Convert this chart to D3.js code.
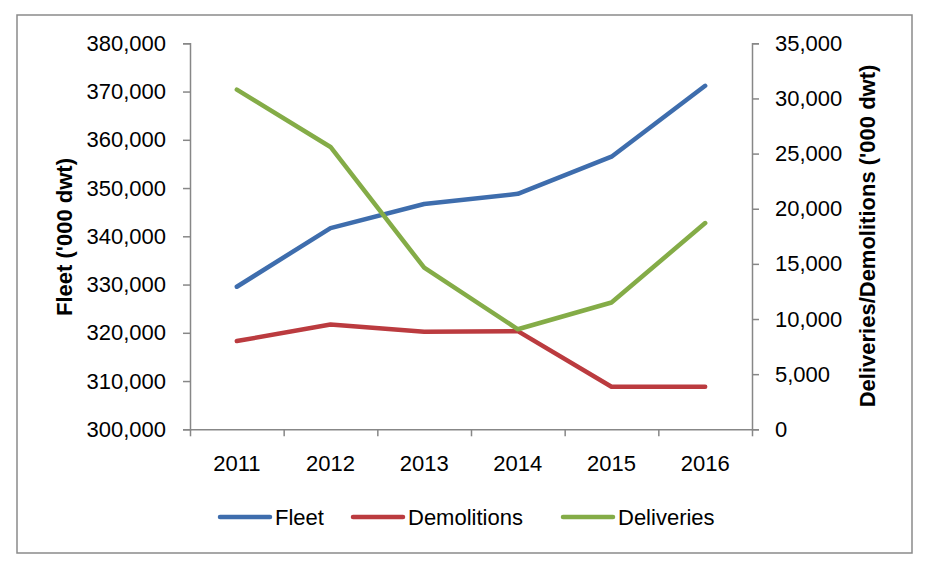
<!DOCTYPE html>
<html>
<head>
<meta charset="utf-8">
<script src="https://cdn.jsdelivr.net/npm/d3@7"></script>
<style>
  html, body { margin: 0; padding: 0; background: #fff; }
  svg { display: block; font-family: "Liberation Sans", Arial, sans-serif; }
</style>
</head>
<body>
<svg id="chart" width="936" height="576"></svg>
<script>
// ---- data ----
const years = ["2011", "2012", "2013", "2014", "2015", "2016"];
const fleet = [329550, 341700, 346700, 348800, 356500, 371200];
const demolitions = [8000, 9500, 8850, 8900, 3860, 3860];
const deliveries = [30800, 25600, 14650, 9070, 11500, 18700];
const leftTicks = [300000, 310000, 320000, 330000, 340000, 350000, 360000, 370000, 380000];
const rightTicks = [0, 5000, 10000, 15000, 20000, 25000, 30000, 35000];
const seriesNames = ["Fleet", "Demolitions", "Deliveries"];
const leftTitle = "Fleet ('000 dwt)";
const rightTitle = "Deliveries/Demolitions ('000 dwt)";

// ---- layout ----
const svg = d3.select("#chart");
const L = 190, R = 752, T = 43.3, B = 429.3;
const axisColor = "#878787";
const colors = { Fleet: "#3E6DAD", Demolitions: "#BB3B3F", Deliveries: "#84AC47" };
const fontSize = 22;

// outer frame
svg.append("rect")
  .attr("x", 17).attr("y", 15).attr("width", 895).attr("height", 538)
  .attr("fill", "none").attr("stroke", "#8a8a8a").attr("stroke-width", 1.5);

const x = d3.scaleBand().domain(years).range([L, R]).paddingInner(0).paddingOuter(0);
const xb = d3.scaleLinear().domain([0, years.length]).range([L, R]);
const yL = d3.scaleLinear().domain([300000, 380000]).range([B, T]);
const yR = d3.scaleLinear().domain([0, 35000]).range([B, T]);
const cx = d => x(d) + x.bandwidth() / 2;

function styleAxis(g) {
  g.select(".domain").attr("stroke", axisColor).attr("stroke-width", 1.5);
  g.selectAll(".tick line").attr("stroke", axisColor).attr("stroke-width", 1.5);
  g.selectAll("text").attr("fill", "#000").attr("font-size", fontSize)
    .attr("font-family", "'Liberation Sans', Arial, sans-serif");
}

// left axis
const gL = svg.append("g").attr("transform", `translate(${L},0)`)
  .call(d3.axisLeft(yL).tickValues(leftTicks).tickFormat(d3.format(",")).tickSize(7).tickSizeOuter(7).tickPadding(17));
styleAxis(gL);

// right axis
const gR = svg.append("g").attr("transform", `translate(${R},0)`)
  .call(d3.axisRight(yR).tickValues(rightTicks).tickFormat(d3.format(",")).tickSize(7).tickSizeOuter(7).tickPadding(16));
styleAxis(gR);

// bottom axis: boundary ticks
const gB = svg.append("g").attr("transform", `translate(0,${B})`)
  .call(d3.axisBottom(xb).tickValues(d3.range(years.length + 1)).tickFormat("").tickSize(7).tickSizeOuter(0));
styleAxis(gB);
// bottom axis: category labels
const gBL = svg.append("g").attr("transform", `translate(0,${B})`)
  .call(d3.axisBottom(x).tickSize(0).tickPadding(26));
gBL.select(".domain").remove();
styleAxis(gBL);

// axis titles
svg.append("text")
  .attr("transform", `translate(72,237) rotate(-90)`)
  .attr("text-anchor", "middle")
  .attr("font-size", fontSize).attr("font-weight", "bold").attr("fill", "#000")
  .text(leftTitle);
svg.append("text")
  .attr("transform", `translate(875,236) rotate(-90)`)
  .attr("text-anchor", "middle")
  .attr("font-size", fontSize).attr("font-weight", "bold").attr("fill", "#000")
  .text(rightTitle);

// lines
const series = [
  { name: "Fleet", values: fleet, y: yL },
  { name: "Demolitions", values: demolitions, y: yR },
  { name: "Deliveries", values: deliveries, y: yR }
];
series.forEach(s => {
  const line = d3.line().x((d, i) => cx(years[i])).y(d => s.y(d));
  svg.append("path")
    .datum(s.values)
    .attr("d", line)
    .attr("fill", "none")
    .attr("stroke", colors[s.name])
    .attr("stroke-width", 4.5)
    .attr("stroke-linejoin", "round")
    .attr("stroke-linecap", "round");
});

// legend
const legendX = [220, 353, 563];
const legendY = 517;
const lg = svg.append("g");
seriesNames.forEach((name, i) => {
  lg.append("line")
    .attr("x1", legendX[i]).attr("x2", legendX[i] + 50)
    .attr("y1", legendY).attr("y2", legendY)
    .attr("stroke", colors[name]).attr("stroke-width", 4.5)
    .attr("stroke-linecap", "round");
  lg.append("text")
    .attr("x", legendX[i] + 55).attr("y", legendY)
    .attr("dy", "0.35em")
    .attr("font-size", fontSize).attr("fill", "#000")
    .text(name);
});
</script>
</body>
</html>
